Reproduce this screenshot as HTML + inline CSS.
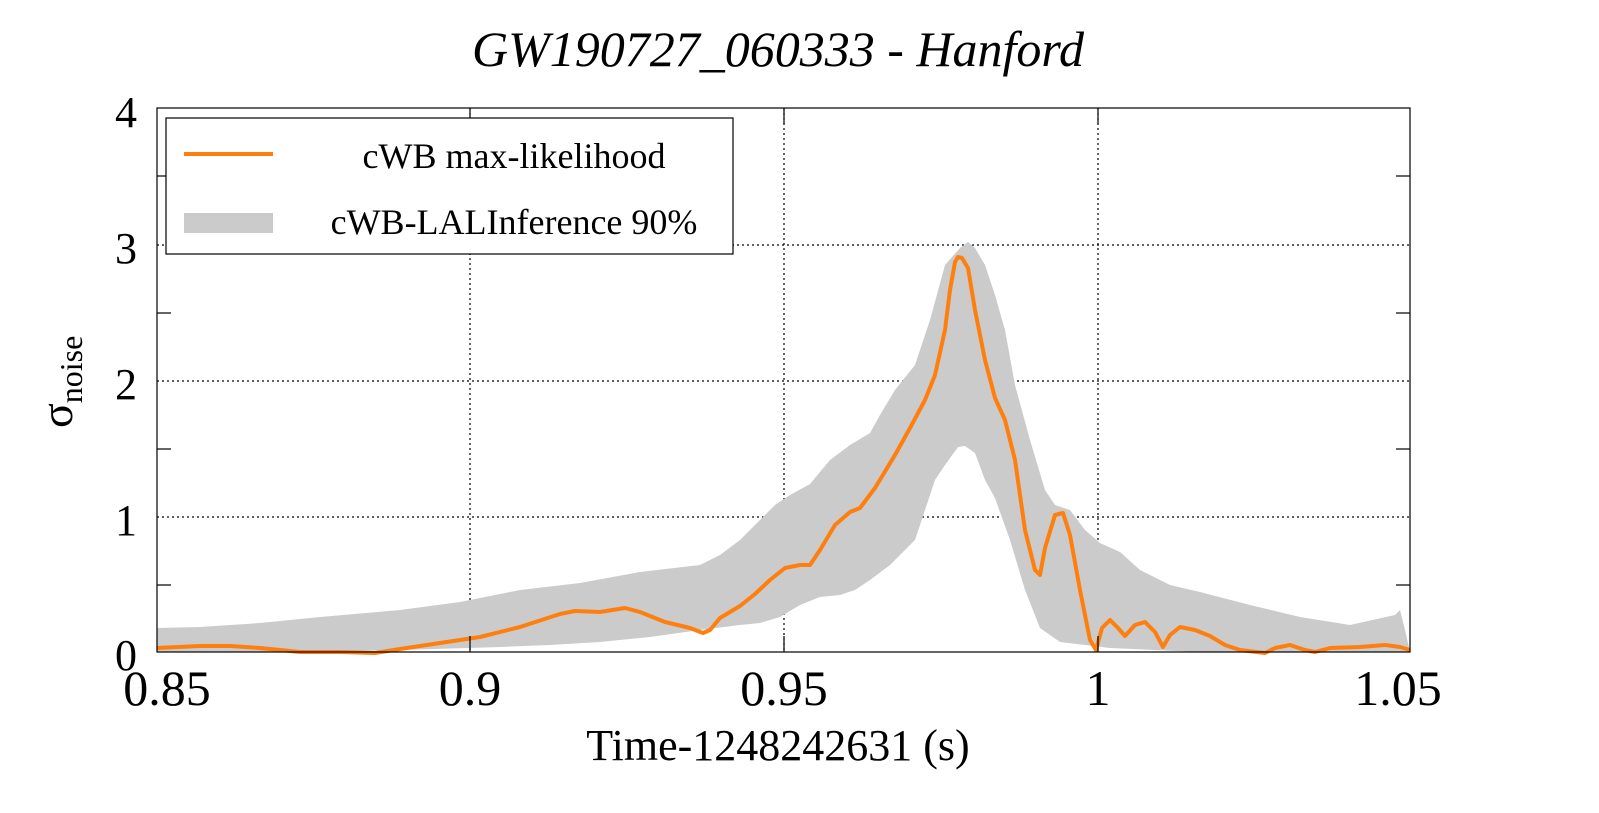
<!DOCTYPE html>
<html><head><meta charset="utf-8"><style>html,body{margin:0;padding:0;overflow:hidden;background:#fff}svg{display:block}</style></head><body>
<svg width="1599" height="813" xmlns="http://www.w3.org/2000/svg" font-family="Liberation Serif, serif">
<rect width="1599" height="813" fill="#fff"/>
<g stroke="#000" stroke-width="1.2" stroke-dasharray="2,3">
<line x1="470" y1="108" x2="470" y2="652"/><line x1="784" y1="108" x2="784" y2="652"/><line x1="1098" y1="108" x2="1098" y2="652"/>
<line x1="157" y1="245" x2="1410" y2="245"/><line x1="157" y1="381" x2="1410" y2="381"/><line x1="157" y1="517" x2="1410" y2="517"/>
</g>
<polygon fill="#cbcbcb" points="157,628 200,627 260,623 320,617 400,610 460,602 520,590 580,583 640,572 700,565 720,555 740,540 760,520 775,505 790,495 810,484 830,460 850,445 870,433 880,415 895,390 915,365 930,320 945,265 960,248 968,242 975,248 985,265 995,295 1005,330 1015,385 1030,440 1045,490 1055,505 1070,510 1085,530 1100,543 1120,552 1140,570 1170,585 1200,592 1250,605 1300,617 1350,625 1395,615 1400,610 1405,630 1410,652 1300,652 1200,652 1110,648 1060,642 1040,628 1025,590 1010,540 995,498 985,480 975,453 965,446 958,447 945,465 935,480 925,510 915,540 905,550 890,565 870,580 855,590 840,595 820,597 800,605 780,617 760,623 740,625 700,630 650,637 600,642 550,645 500,647 400,650 300,652 157,652"/>
<polyline fill="none" stroke="#ff7f0e" stroke-width="4" stroke-linejoin="round" points="157,648 200,646 230,646 260,648 300,652 340,652 375,653 400,649 440,643 480,637 520,627 560,614 575,611 600,612 625,608 640,612 665,622 690,628 703,633 710,630 720,618 740,606 755,594 770,580 785,568 800,565 810,565 820,550 835,525 850,512 860,508 875,488 895,455 910,428 925,400 935,375 945,330 950,290 955,262 958,257 962,258 968,268 975,310 985,360 995,398 1005,420 1015,460 1025,530 1035,570 1040,575 1045,548 1055,515 1063,513 1070,535 1080,590 1090,640 1096,650 1102,628 1110,620 1118,628 1125,636 1135,625 1145,622 1155,632 1163,647 1170,635 1180,627 1195,630 1210,636 1225,645 1240,650 1265,653 1275,648 1290,645 1305,650 1315,652 1330,648 1360,647 1385,645 1400,647 1410,650"/>
<rect x="157" y="108" width="1253" height="544" fill="none" stroke="#000" stroke-width="1.2"/>
<g stroke="#000" stroke-width="1.2">
<line x1="157" y1="176" x2="171" y2="176"/><line x1="157" y1="313" x2="171" y2="313"/><line x1="157" y1="449" x2="171" y2="449"/><line x1="157" y1="585" x2="171" y2="585"/>
<line x1="1410" y1="176" x2="1396" y2="176"/><line x1="1410" y1="313" x2="1396" y2="313"/><line x1="1410" y1="449" x2="1396" y2="449"/><line x1="1410" y1="585" x2="1396" y2="585"/>
<line x1="470" y1="652" x2="470" y2="636"/><line x1="784" y1="652" x2="784" y2="636"/><line x1="1098" y1="652" x2="1098" y2="636"/>
<line x1="470" y1="108" x2="470" y2="124"/><line x1="784" y1="108" x2="784" y2="124"/><line x1="1098" y1="108" x2="1098" y2="124"/>
</g>
<rect x="166" y="118" width="567" height="136" fill="#fff" stroke="#000" stroke-width="1.2"/>
<line x1="184" y1="154" x2="273" y2="154" stroke="#ff7f0e" stroke-width="4"/>
<rect x="184" y="213" width="89" height="20" fill="#cbcbcb"/>
<text x="514" y="168" font-size="36" text-anchor="middle">cWB max-likelihood</text>
<text x="514" y="234" font-size="36" text-anchor="middle">cWB-LALInference 90%</text>
<text x="778" y="66" font-size="50" font-style="italic" text-anchor="middle">GW190727_060333 - Hanford</text>
<g font-size="44" text-anchor="end">
<text x="137" y="127">4</text><text x="137" y="263">3</text><text x="137" y="399">2</text><text x="137" y="535">1</text><text x="137" y="670">0</text>
</g>
<g font-size="50" text-anchor="middle">
<text x="167" y="705">0.85</text><text x="470" y="705">0.9</text><text x="784" y="705">0.95</text><text x="1098" y="705">1</text><text x="1398" y="705">1.05</text>
</g>
<text x="778" y="760" font-size="44" text-anchor="middle">Time-1248242631 (s)</text>
<text transform="translate(72,428) rotate(-90)" font-size="46">σ<tspan font-size="32" dy="10">noise</tspan></text>
</svg>
</body></html>
